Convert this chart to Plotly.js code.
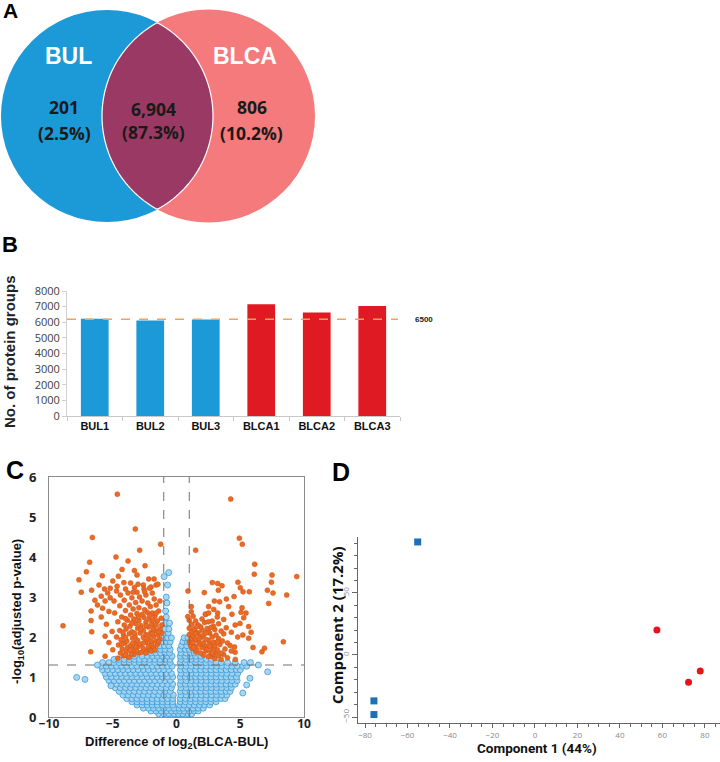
<!DOCTYPE html>
<html>
<head>
<meta charset="utf-8">
<script src="https://cdn.plot.ly/plotly-3.0.1.min.js"></script>
<style>html,body{margin:0;padding:0;background:#fff;}#chart{width:720px;height:762px;}</style>
</head>
<body>
<div id="chart"></div>
<script>
// ---------------- DATA ----------------
// Panel A: Venn diagram
const vennSets = ['BUL', 'BLCA'];
const vennCounts = ['201', '6,904', '806'];          // BUL only, shared, BLCA only
const vennPercents = ['(2.5%)', '(87.3%)', '(10.2%)'];

// Panel B: number of protein groups
const barCategories = ['BUL1', 'BUL2', 'BUL3', 'BLCA1', 'BLCA2', 'BLCA3'];
const barValues = [6220, 6110, 6180, 7150, 6620, 7040];
const barGroups = ['BUL', 'BUL', 'BUL', 'BLCA', 'BLCA', 'BLCA'];
const refLineValue = 6200;
const refLineLabel = '6500';

// Panel C: volcano plot. Non-significant proteins as rows of [ -log10(adj p), [log2 differences...] ]
const nonSigRows = [
  [0.02, [-0.8,-0.4,-0.1,0.2,0.5,0.8]],
  [0.08, [-1.4,-1.0,-0.6,-0.2,0.15,0.5,0.9,1.2]],
  [0.15, [-2.0,-1.6,-1.2,-0.8,-0.4,-0.05,0.25,0.6,1.0,1.4,1.7]],
  [0.22, [-2.6,-2.2,-1.8,-1.4,-1.0,-0.6,-0.2,0.2,0.5,0.9,1.3,1.7,2.1]],
  [0.30, [-3.1,-2.7,-2.3,-1.9,-1.5,-1.1,-0.7,-0.3,0.25,0.6,1.0,1.4,1.8,2.2,2.6]],
  [0.38, [-3.5,-3.1,-2.7,-2.3,-1.9,-1.5,-1.1,-0.7,-0.3,0.3,0.7,1.1,1.5,1.9,2.3,2.7,3.1]],
  [0.46, [-3.9,-3.5,-3.1,-2.7,-2.3,-1.9,-1.5,-1.1,-0.7,-0.3,0.3,0.7,1.1,1.5,1.9,2.3,2.7,3.1,3.5,3.8]],
  [0.55, [-4.2,-3.8,-3.4,-3.0,-2.6,-2.2,-1.8,-1.4,-1.0,-0.6,-0.25,0.35,0.75,1.15,1.55,1.95,2.35,2.75,3.15,3.55,3.95]],
  [0.64, [-4.5,-4.1,-3.7,-3.3,-2.9,-2.5,-2.1,-1.7,-1.3,-0.9,-0.5,0.3,0.7,1.1,1.5,1.9,2.3,2.7,3.1,3.5,3.9,4.2]],
  [0.73, [-4.8,-4.4,-4.0,-3.6,-3.2,-2.8,-2.4,-2.0,-1.6,-1.2,-0.8,-0.4,0.35,0.75,1.15,1.55,1.95,2.35,2.75,3.15,3.55,3.95,4.3]],
  [0.82, [-5.1,-4.7,-4.3,-3.9,-3.5,-3.1,-2.7,-2.3,-1.9,-1.5,-1.1,-0.7,-0.3,0.3,0.7,1.1,1.5,1.9,2.3,2.7,3.1,3.5,3.9,4.3,4.6]],
  [0.91, [-5.3,-4.9,-4.5,-4.1,-3.7,-3.3,-2.9,-2.5,-2.1,-1.7,-1.3,-0.9,-0.5,0.35,0.75,1.15,1.55,1.95,2.35,2.75,3.15,3.55,3.95,4.35,4.75]],
  [1.00, [-5.5,-5.1,-4.7,-4.3,-3.9,-3.5,-3.1,-2.7,-2.3,-1.9,-1.5,-1.1,-0.7,-0.3,0.3,0.7,1.1,1.5,1.9,2.3,2.7,3.1,3.5,3.9,4.3,4.7]],
  [1.09, [-5.6,-5.2,-4.8,-4.4,-4.0,-3.6,-3.2,-2.8,-2.4,-2.0,-1.6,-1.2,-0.8,-0.4,0.35,0.75,1.15,1.55,1.95,2.35,2.75,3.15,3.55,3.95,4.35,4.8]],
  [1.18, [-5.8,-5.4,-5.0,-4.6,-4.2,-3.8,-3.4,-3.0,-2.6,-2.2,-1.8,-1.4,-1.0,-0.6,0.3,0.7,1.1,1.5,1.9,2.3,2.7,3.1,3.5,3.9,4.3,4.7,5.0]],
  [1.27, [-5.9,-5.5,-5.1,-4.7,-4.3,-3.9,-3.5,-3.1,-2.7,-2.3,-1.9,-1.5,-1.1,-0.7,-0.35,0.35,0.75,1.15,1.55,1.95,2.35,2.75,3.15,3.55,3.95,4.35,4.75,5.2,5.5]],
  [1.36, [-5.8,-5.3,-4.9,-4.5,-4.1,-3.7,-3.3,-2.9,-2.5,-2.1,-1.7,-1.3,-0.9,-0.5,0.3,0.7,1.1,1.5,1.9,2.3,2.7,3.1,3.5,4.0,4.6,5.3,5.8]],
  [1.44, [-4.9,-4.5,-4.1,-3.7,-3.3,-2.9,-2.5,-2.1,-1.7,-1.3,-0.9,-0.5,0.35,0.75,1.15,1.55,1.95,2.35,2.75]],
  [1.52, [-3.3,-2.7,-2.3,-1.9,-1.5,-1.1,-0.7,-0.35,0.3,0.7,1.1,1.5,1.9]],
  [1.60, [-2.0,-1.6,-1.25,-0.9,-0.55,0.35,0.75,1.1,1.4]],
  [1.69, [-1.6,-1.25,-0.9,-0.5,0.3,0.7,1.0]],
  [1.78, [-1.3,-0.95,-0.6,0.4,0.8]],
  [1.88, [-1.1,-0.8,-0.5,0.5,0.85]],
  [1.98, [-1.0,-0.7,-0.4,0.6,0.9]],
  [2.10, [-0.95,-0.65]],
  [2.20, [-0.9,-0.6]],
  [2.35, [-0.85,-0.55]],
  [2.50, [-0.8]],
  [2.65, [-0.85]],
  [2.85, [-0.75]],
  [3.00, [-0.8]]
];
const nonSigExtra = [[-0.97,3.51],[-0.61,3.61],[-0.7,3.3],[-7.83,0.99],[-7.18,0.94],[-6.2,1.3],
  [6.42,1.3],[7.15,1.13],[5.76,0.97],[5.5,0.8],[5.2,0.6],[-5.14,0.78]];

// Significant proteins as [log2 difference, -log10(adj p)]
const sigPoints = [
  [-5.6,1.52],[-4.6,1.47],[-4.15,1.53],[-3.75,1.49],[-3.35,1.56],[-2.95,1.6],
  [-4.4,1.6],[-3.95,1.63],[-3.55,1.58],[-3.15,1.66],[-2.75,1.62],[-2.35,1.67],[-2.0,1.72],
  [-5.0,1.68],[-4.25,1.7],[-3.85,1.74],[-3.4,1.69],[-3.0,1.76],[-2.6,1.71],[-2.2,1.78],[-1.8,1.75],[-1.5,1.82],
  [-4.55,1.8],[-4.05,1.85],[-3.6,1.79],[-3.2,1.86],[-2.8,1.82],[-2.4,1.88],[-1.95,1.84],[-1.6,1.9],[-1.3,1.95],
  [-5.3,1.86],[-4.35,1.93],[-3.9,1.9],[-3.45,1.97],[-3.05,1.92],[-2.6,1.99],[-2.2,1.94],[-1.8,2.01],[-1.45,2.05],[-1.15,2.1],
  [-4.7,2.0],[-4.15,2.04],[-3.7,2.08],[-3.25,2.02],[-2.85,2.1],[-2.4,2.06],[-2.0,2.12],[-1.6,2.15],[-1.3,2.2],
  [-5.6,2.02],[-5.05,2.14],[-4.45,2.16],[-3.95,2.2],[-3.5,2.13],[-3.05,2.22],[-2.6,2.17],[-2.2,2.25],[-1.8,2.22],[-1.15,2.3],
  [-4.1,2.3],[-3.65,2.27],[-3.2,2.34],[-2.8,2.29],[-2.4,2.37],[-1.95,2.33],[-1.5,2.4],
  [-5.5,2.32],[-4.6,2.38],[-3.85,2.42],[-3.35,2.45],[-2.95,2.41],[-2.55,2.49],[-2.15,2.45],[-1.7,2.52],[-1.2,2.47],
  [-4.3,2.5],[-3.6,2.55],[-3.1,2.59],[-2.7,2.56],[-2.3,2.62],[-1.9,2.6],[-1.4,2.65],
  [-5.9,2.5],[-4.85,2.6],[-4.0,2.66],[-3.4,2.7],[-2.95,2.73],[-2.5,2.68],[-2.05,2.76],[-1.6,2.8],
  [-5.3,2.64],[-4.45,2.78],[-3.7,2.8],[-3.2,2.86],[-2.7,2.9],[-2.25,2.85],[-1.75,2.95],
  [-5.8,2.72],[-4.9,2.9],[-4.1,2.92],[-3.5,2.98],[-2.9,3.0],[-2.4,3.05],[-1.9,3.1],[-1.3,2.9],
  [-6.2,2.8],[-5.2,2.98],[-4.4,3.05],[-3.8,3.1],[-3.1,3.12],[-2.55,3.2],[-2.0,3.25],
  [-6.4,2.92],[-5.6,2.9],[-5.9,3.02],[-5.4,3.1],[-4.7,3.15],[-4.0,3.2],[-3.3,3.24],
  [-5.65,3.2],[-4.66,3.27],[-3.6,3.35],[-3.02,3.32],[-2.11,3.22],[-1.6,3.3],
  [-6.08,3.3],[-5.2,3.22],[-4.13,3.36],[-3.4,3.12],[-2.6,3.3],[-1.46,3.32],
  [-4.0,1.55],[-3.6,1.68],[-3.2,1.75],[-2.4,1.6],[-2.0,1.65],[-1.7,1.68],[-4.3,1.82],[-3.45,1.84],
  [-2.6,1.85],[-2.0,1.9],[-1.4,1.88],[-4.0,1.98],[-3.3,2.1],[-2.2,2.04],[-1.9,2.08],[-1.4,2.12],
  [-4.2,2.12],[-2.8,2.2],[-2.4,2.28],[-1.6,2.3],[-3.5,2.35],[-1.85,2.42],[-4.0,2.46],[-3.0,2.5],
  [-2.1,2.54],[-1.6,2.6],
  [-4.64,5.57],[-3.23,4.70],[-6.6,4.49],[-2.89,4.17],[-1.24,4.32],[-4.75,4.0],
  [-6.81,3.87],[-3.8,3.9],[-7.07,3.63],[-7.65,3.43],[-8.9,2.28],[-6.73,1.63],[-6.7,2.41],
  [-6.65,2.13],[-6.7,2.65],[-7.47,3.12],[-6.66,3.17],[-5.82,3.53],[-4.27,3.69],[-3.3,3.66],
  [-3.1,3.55],[-2.47,3.78],[-4.56,3.52],[-2.18,3.45],[-1.76,3.45],[-2.5,3.13],[-5.0,3.4],
  [3.0,1.46],[3.5,1.44],[4.0,1.48],[2.7,1.52],
  [2.1,1.55],[2.5,1.51],[2.9,1.57],[3.3,1.53],[3.7,1.56],
  [1.5,1.63],[1.9,1.6],[2.3,1.65],[2.7,1.61],[3.1,1.64],[3.5,1.6],[4.6,1.62],
  [1.2,1.72],[1.6,1.69],[2.0,1.74],[2.4,1.7],[2.8,1.73],[3.2,1.68],[4.55,1.75],[6.9,1.72],
  [1.1,1.8],[1.45,1.77],[1.8,1.82],[2.2,1.79],[2.6,1.83],[3.0,1.78],[3.4,1.81],[4.2,1.79],[6.0,1.74],
  [1.0,1.88],[1.3,1.86],[1.7,1.9],[2.1,1.85],[2.5,1.92],[2.9,1.87],[3.6,1.9],[4.0,1.85],[8.38,1.88],
  [1.15,1.97],[1.5,1.95],[1.9,1.99],[2.3,1.94],[2.8,2.0],[3.3,1.96],[4.8,2.0],[5.66,1.97],
  [1.0,2.06],[1.3,2.03],[1.7,2.08],[2.1,2.04],[2.6,2.1],[3.1,2.05],[3.7,2.08],[5.2,2.05],
  [1.2,2.14],[1.6,2.12],[2.0,2.17],[2.5,2.13],[3.0,2.19],[3.5,2.15],[4.3,2.12],[5.85,2.12],
  [1.0,2.22],[1.4,2.2],[1.9,2.25],[2.4,2.21],[2.9,2.27],[3.9,2.23],
  [1.2,2.32],[1.7,2.3],[2.2,2.36],[3.3,2.33],[4.6,2.3],[5.66,2.26],
  [1.0,2.42],[1.5,2.4],[2.0,2.45],[2.8,2.4],[3.7,2.44],[4.98,2.34],
  [0.88,2.51],[1.3,2.52],[2.3,2.57],[3.2,2.5],[5.27,2.48],
  [1.16,2.63],[2.26,2.57],[2.52,2.6],[3.23,2.6],[4.35,2.57],[5.06,2.62],[5.45,2.6],
  [1.16,2.76],[2.92,2.69],[4.09,2.76],[5.14,2.73],
  [2.52,2.76],[3.38,2.88],[7.23,2.84],[2.97,2.9],[3.91,2.95],
  [4.51,3.01],[8.64,3.05],[0.9,3.15],[2.18,3.11],[5.22,3.13],[5.71,3.13],[7.57,3.1],
  [3.28,3.17],[5.0,3.23],[7.13,3.17],
  [1.35,1.74],[2.8,1.6],[1.8,1.96],[2.6,1.77],[3.2,1.88],[1.5,2.08],[2.3,2.1],[2.7,2.24],
  [1.6,2.26],[2.5,2.38],[3.8,1.7],[4.3,1.65],
  [4.25,5.45],[4.93,4.47],[5.16,4.32],[1.5,4.17],[6.13,3.82],[6.1,3.57],[9.43,3.51],
  [7.49,3.55],[7.44,3.37],[2.81,3.36],[3.23,3.34],[3.57,3.28],[4.82,3.37],[6.7,1.63],[4.61,1.44]
];
const pThreshold = 1.3;     // -log10(0.05)
const foldThreshold = 1;

// Panel D: PCA scores
const pcaBulX = [-55.2, -75.8, -75.8];
const pcaBulY = [91, -37, -48];
const pcaBlcaX = [57.4, 77.8, 72.3];
const pcaBlcaY = [20, -13, -22];

// ---------------- HELPERS ----------------
const W = 720, H = 762;
const PX = p => p / W;
const PY = p => 1 - p / H;

const nonSigX = [], nonSigY = [];
nonSigRows.forEach(([y, list]) => list.forEach(x => { nonSigX.push(x); nonSigY.push(y); }));
nonSigExtra.forEach(([x, y]) => { nonSigX.push(x); nonSigY.push(y); });
const sigX = sigPoints.map(p => p[0]);
const sigY = sigPoints.map(p => p[1]);

// Venn geometry (pixels)
const c1 = {x: 107, y: 116, r: 106};
const c2 = {x: 208.5, y: 116, r: 106.5};
function lensPath() {
  const d = c2.x - c1.x;
  const a = (c1.r * c1.r - c2.r * c2.r + d * d) / (2 * d);
  const h = Math.sqrt(c1.r * c1.r - a * a);
  const a2 = Math.atan2(h, c2.x - (c1.x + a));
  const a1 = Math.atan2(h, a);
  const pts = [];
  const n = 60;
  for (let i = 0; i <= n; i++) {
    const t = Math.PI + a2 - 2 * a2 * i / n;
    pts.push([c2.x + c2.r * Math.cos(t), c2.y + c2.r * Math.sin(t)]);
  }
  for (let i = 0; i <= n; i++) {
    const t = a1 - 2 * a1 * i / n;
    pts.push([c1.x + c1.r * Math.cos(t), c1.y + c1.r * Math.sin(t)]);
  }
  return 'M ' + pts.map(p => PX(p[0]).toFixed(5) + ',' + PY(p[1]).toFixed(5)).join(' L ') + ' Z';
}
function circleShape(c, color) {
  return {type: 'circle', xref: 'paper', yref: 'paper',
    x0: PX(c.x - c.r), x1: PX(c.x + c.r), y0: PY(c.y + c.r), y1: PY(c.y - c.r),
    fillcolor: color, line: {width: 0}};
}
function ann(text, x, y, size, color, extra) {
  return Object.assign({text: text, xref: 'paper', yref: 'paper', x: PX(x), y: PY(y),
    xanchor: 'center', yanchor: 'middle', showarrow: false,
    font: {family: 'Liberation Sans, Arial, sans-serif', size: size, color: color}}, extra || {});
}

// ---------------- TRACES ----------------
const barColors = barGroups.map(g => g === 'BUL' ? '#1b9ad7' : '#e01a22');
const traces = [
  {type: 'bar', x: barCategories, y: barValues, xaxis: 'x', yaxis: 'y', width: 0.5,
   marker: {color: barColors, line: {width: 0}}, hoverinfo: 'x+y'},
  {type: 'scatter', mode: 'markers', x: nonSigX, y: nonSigY, xaxis: 'x2', yaxis: 'y2',
   marker: {size: 6, color: 'rgba(160,210,240,0.9)', line: {color: '#3a9ad8', width: 0.8}}},
  {type: 'scatter', mode: 'markers', x: sigX, y: sigY, xaxis: 'x2', yaxis: 'y2',
   marker: {size: 5, color: '#ec6a24', line: {color: '#c9561a', width: 0.5}}},
  {type: 'scatter', mode: 'markers', x: pcaBulX, y: pcaBulY, xaxis: 'x3', yaxis: 'y3',
   marker: {symbol: 'square', size: 7, color: '#1d6fb8'}},
  {type: 'scatter', mode: 'markers', x: pcaBlcaX, y: pcaBlcaY, xaxis: 'x3', yaxis: 'y3',
   marker: {symbol: 'circle', size: 7, color: '#e8121c'}}
];

// ---------------- LAYOUT ----------------
const numFont = 'Open Sans, Noto Sans, sans-serif';
const shapes = [
  circleShape(c1, '#1b9ad7'),
  circleShape(c2, '#f47a7b'),
  {type: 'path', xref: 'paper', yref: 'paper', path: lensPath(), fillcolor: '#9a3a64',
   line: {color: '#ffffff', width: 1.2}},
  {type: 'line', xref: 'paper', yref: 'y', x0: PX(67), x1: PX(398), y0: refLineValue, y1: refLineValue,
   line: {color: '#f0a15a', width: 1.5, dash: 'dash'}},
  {type: 'line', xref: 'x2', yref: 'y2', x0: -foldThreshold, x1: -foldThreshold, y0: 0, y1: 6,
   line: {color: '#707070', width: 1, dash: 'dash'}},
  {type: 'line', xref: 'x2', yref: 'y2', x0: foldThreshold, x1: foldThreshold, y0: 0, y1: 6,
   line: {color: '#707070', width: 1, dash: 'dash'}},
  {type: 'line', xref: 'x2', yref: 'y2', x0: -10, x1: 10, y0: pThreshold, y1: pThreshold,
   line: {color: '#707070', width: 1, dash: 'dash'}}
];

const vennNumFont = {family: numFont, size: 17.5, color: '#1a1a1a'};
const annotations = [
  ann('<b>A</b>', 10, 10, 21, '#000'),
  ann('<b>B</b>', 10, 244, 22, '#000'),
  ann('<b>C</b>', 15, 470, 25, '#000'),
  ann('<b>D</b>', 341, 472, 25, '#000'),
  ann('<b>' + vennSets[0] + '</b>', 68, 56, 23, '#ffffff'),
  ann('<b>' + vennSets[1] + '</b>', 244.5, 56, 23, '#ffffff'),
  ann('<b>' + vennCounts[0] + '</b>', 64, 107, 17.5, '#1a1a1a', {font: vennNumFont}),
  ann('<b>' + vennPercents[0] + '</b>', 64, 133, 17.5, '#1a1a1a', {font: vennNumFont}),
  ann('<b>' + vennCounts[1] + '</b>', 153, 109, 17.5, '#1a1a1a', {font: vennNumFont}),
  ann('<b>' + vennPercents[1] + '</b>', 153, 132, 17.5, '#1a1a1a', {font: vennNumFont}),
  ann('<b>' + vennCounts[2] + '</b>', 252, 107, 17.5, '#1a1a1a', {font: vennNumFont}),
  ann('<b>' + vennPercents[2] + '</b>', 252, 133, 17.5, '#1a1a1a', {font: vennNumFont}),
  ann('<b>No. of protein groups</b>', 9, 352, 15, '#222', {textangle: -90}),
  ann('<b>' + refLineLabel + '</b>', 413, 319, 8, '#222', {xanchor: 'left'}),
  ann('<b>-log<sub>10</sub>(adjusted p-value)</b>', 17, 612, 13, '#111', {textangle: -90}),
  ann('<b>Difference of log<sub>2</sub>(BLCA-BUL)</b>', 176, 742, 13, '#111'),
  ann('<b>Component 2 (17.2%)</b>', 337, 625, 15, '#111', {textangle: -90, font: {family: numFont, size: 15, color: '#111'}}),
  ann('<b>Component 1 (44%)</b>', 537, 748, 13, '#111', {font: {family: 'Roboto, sans-serif', size: 13.5, color: '#111'}})
];

const layout = {
  width: W, height: H,
  margin: {l: 0, r: 0, t: 0, b: 0},
  paper_bgcolor: '#ffffff', plot_bgcolor: 'rgba(0,0,0,0)',
  showlegend: false,
  xaxis: {domain: [PX(67), PX(400)], anchor: 'y', type: 'category', range: [-0.5, 5.5],
    showline: true, linecolor: '#c8c8c8', linewidth: 1, ticks: 'outside', tickson: 'boundaries',
    ticklen: 4, tickcolor: '#c8c8c8', showgrid: false, zeroline: false,
    tickfont: {family: 'Liberation Sans, Arial, sans-serif', size: 11, color: '#111', weight: 'bold'}},
  yaxis: {domain: [PY(416), PY(291)], anchor: 'x', range: [0, 8000], dtick: 1000,
    showline: true, linecolor: '#d0d0d0', linewidth: 1, ticks: 'outside', ticklen: 4, tickcolor: '#d0d0d0',
    showgrid: false, zeroline: false,
    tickfont: {family: numFont, size: 11, color: '#404040'}},
  xaxis2: {domain: [PX(49), PX(304)], anchor: 'y2', range: [-10, 10], dtick: 5,
    showline: true, mirror: true, linecolor: '#8a8a8a', linewidth: 1, ticks: '', ticklabelstandoff: -4,
    showgrid: false, zeroline: false,
    tickfont: {family: numFont, size: 12, color: '#222', weight: 'bold'}},
  yaxis2: {domain: [PY(717), PY(477)], anchor: 'x2', range: [0, 6], dtick: 1,
    showline: true, mirror: true, linecolor: '#8a8a8a', linewidth: 1, ticks: '', ticklabelstandoff: 9,
    showgrid: false, zeroline: false,
    tickfont: {family: numFont, size: 13, color: '#222', weight: 'bold'}},
  xaxis3: {domain: [PX(358), 1], anchor: 'y3', range: [-83.3, 87.1], tick0: 0, dtick: 20,
    showline: true, linecolor: '#666', linewidth: 1, ticks: 'outside', ticklen: 4, tickcolor: '#666',
    minor: {dtick: 5, ticks: 'outside', ticklen: 3, tickcolor: '#666'},
    showgrid: false, zeroline: false,
    tickfont: {family: numFont, size: 8, color: '#888'}},
  yaxis3: {domain: [PY(723), PY(537)], anchor: 'x3', range: [-54.8, 95], tick0: 0, dtick: 50, tickangle: -90,
    showline: true, linecolor: '#666', linewidth: 1, ticks: 'outside', ticklen: 5, tickcolor: '#666',
    minor: {dtick: 10, ticks: 'outside', ticklen: 3, tickcolor: '#666'},
    showgrid: false, zeroline: false,
    tickfont: {family: numFont, size: 8, color: '#888'}},
  shapes: shapes,
  annotations: annotations
};

Plotly.newPlot('chart', traces, layout, {displayModeBar: false, responsive: false});
</script>
</body>
</html>
